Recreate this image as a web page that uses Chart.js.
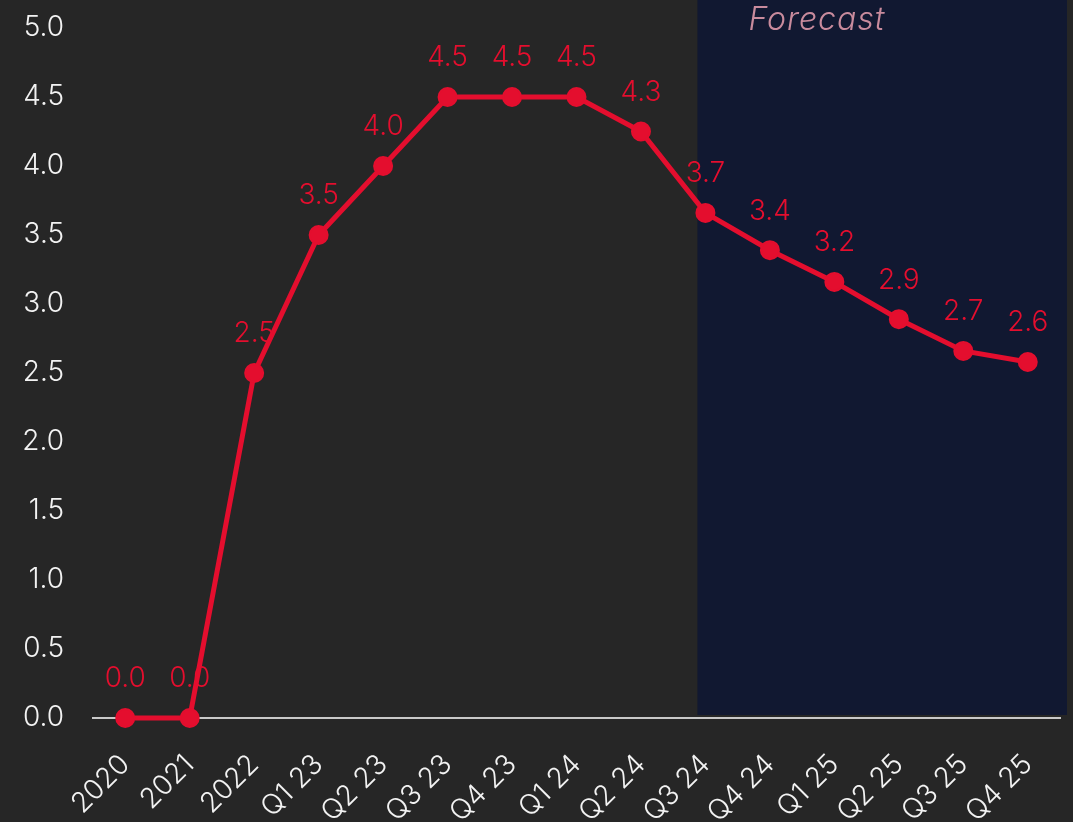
<!DOCTYPE html>
<html>
<head>
<meta charset="utf-8">
<script src="https://cdn.jsdelivr.net/npm/chart.js@4.4.1/dist/chart.umd.min.js"></script>
<style>
  html, body { margin: 0; padding: 0; background: #262626; }
  #wrap { width: 1073px; height: 822px; position: relative; }
</style>
</head>
<body>
<div id="wrap"><canvas id="c" width="1073" height="822"></canvas></div>
<script>
// Policy rate path: annual history, quarterly thereafter
const categories = ['2020', '2021', '2022', 'Q1 23', 'Q2 23', 'Q3 23', 'Q4 23',
  'Q1 24', 'Q2 24', 'Q3 24', 'Q4 24', 'Q1 25', 'Q2 25', 'Q3 25', 'Q4 25'];
const rateValues = [0, 0, 2.5, 3.5, 4.0, 4.5, 4.5, 4.5, 4.25, 3.66, 3.39, 3.16, 2.89, 2.66, 2.58];
const yTickMin = 0;
const yTickMax = 5;
const yTickStep = 0.5;
const forecastStartIndex = 9;
const forecastLabel = 'Forecast';

const RED = '#e40e2e';
const FONT = 'Inter, "Open Sans", sans-serif';

// Shaded forecast period behind the line
const forecastBand = {
  id: 'forecastBand',
  beforeDatasetsDraw(chart) {
    const { ctx, chartArea, scales } = chart;
    const x0 = scales.x.getPixelForValue(forecastStartIndex) - 8;
    const x1 = chartArea.right + 7;
    const yBase = scales.y.getPixelForValue(0) - 3;
    ctx.save();
    ctx.fillStyle = '#111831';
    ctx.fillRect(x0, 0, x1 - x0, yBase);
    ctx.font = 'italic 300 32px ' + FONT;
    if ('letterSpacing' in ctx) ctx.letterSpacing = '1px';
    ctx.fillStyle = '#c98b9d';
    ctx.textAlign = 'left';
    ctx.textBaseline = 'middle';
    ctx.fillText(forecastLabel, x0 + 51, 20);
    ctx.restore();
  }
};

// Value labels above each point
const valueLabels = {
  id: 'valueLabels',
  afterDatasetsDraw(chart) {
    const { ctx } = chart;
    const meta = chart.getDatasetMeta(0);
    ctx.save();
    ctx.font = '300 28px ' + FONT;
    ctx.fillStyle = RED;
    ctx.textAlign = 'center';
    ctx.textBaseline = 'middle';
    meta.data.forEach((pt, i) => {
      ctx.fillText(rateValues[i].toFixed(1), pt.x, pt.y - 39);
    });
    ctx.restore();
  }
};

new Chart(document.getElementById('c'), {
  type: 'line',
  data: {
    labels: categories,
    datasets: [{
      data: rateValues,
      borderColor: RED,
      backgroundColor: RED,
      borderWidth: 5,
      pointRadius: 9,
      pointBorderWidth: 2,
      pointBorderColor: RED,
      pointBackgroundColor: RED,
      tension: 0,
      clip: false
    }]
  },
  options: {
    responsive: false,
    animation: false,
    layout: { padding: { top: 28, right: 13, left: 0, bottom: 0 } },
    plugins: {
      legend: { display: false },
      tooltip: { enabled: false }
    },
    scales: {
      x: {
        type: 'category',
        offset: true,
        grid: { display: false, drawTicks: false },
        border: { display: true, color: '#c9c9c9', width: 2 },
        ticks: {
          color: '#f2f2f2',
          font: { family: FONT, size: 28, weight: '300' },
          maxRotation: 45,
          minRotation: 45,
          padding: 30,
          autoSkip: false
        },
        afterFit(scale) {
          scale.height = 104;
          scale.paddingLeft = 0;
          scale.paddingRight = 0;
        }
      },
      y: {
        min: yTickMin,
        max: yTickMax,
        grid: { display: false, drawTicks: false },
        border: { display: false },
        ticks: {
          stepSize: yTickStep,
          color: '#f2f2f2',
          font: { family: FONT, size: 28, weight: '300' },
          padding: 29,
          callback: (v) => Number(v).toFixed(1)
        },
        afterFit(scale) {
          scale.width = 93;
          scale.paddingTop = 0;
          scale.paddingBottom = 0;
        }
      }
    }
  },
  plugins: [forecastBand, valueLabels]
});
</script>
</body>
</html>
